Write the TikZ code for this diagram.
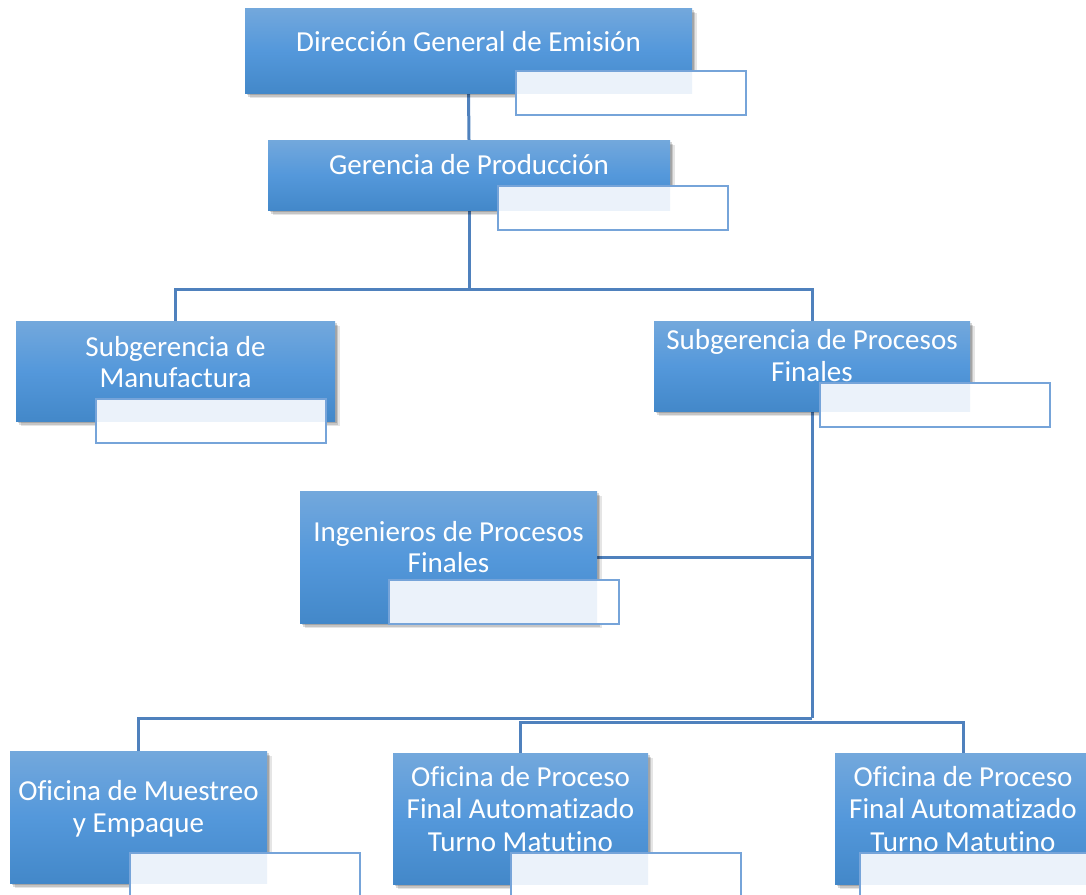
\documentclass[tikz,border=0pt]{standalone}
\usepackage{fontspec}
\setmainfont[Ligatures=NoCommon]{Carlito}
\usetikzlibrary{shadows}
\definecolor{linkblue}{RGB}{79,129,189}
\definecolor{boxtop}{RGB}{115,168,220}
\definecolor{boxmid}{RGB}{84,152,219}
\definecolor{boxbot}{RGB}{67,136,201}
\definecolor{notefill}{RGB}{235,242,250}
\definecolor{noteedge}{RGB}{118,164,217}
\pgfdeclarelayer{bg}
\pgfsetlayers{bg,main}
\tikzset{
  softshadow/.style={
    drop shadow={shadow xshift=1.5pt, shadow yshift=-2pt, opacity=0.16, fill=black},
    drop shadow={shadow xshift=3pt, shadow yshift=-3.5pt, opacity=0.14, fill=black},
    drop shadow={shadow xshift=4.5pt, shadow yshift=-5pt, opacity=0.10, fill=black}},
  unitbox/.style={rectangle, inner sep=0pt, outer sep=0pt, anchor=north west,
    top color=boxtop, bottom color=boxbot, middle color=boxmid, softshadow},
  notebox/.style={rectangle, inner sep=0pt, outer sep=0pt, anchor=north west, fill=white},
  noteline/.style={draw=noteedge, line width=1.3pt},
  lbl/.style={inner sep=0pt, anchor=base, text=white, font=\fontsize{29}{32}\selectfont},
  link/.style={draw=linkblue, line width=3pt},
}
% #1 name, #2 x, #3 y, #4 width, #5 height
\newcommand\orgunit[5]{\node[unitbox, minimum width=#4pt, minimum height=#5pt] (#1) at (#2,#3) {};}
% #1 note name, #2 unit name, #3 x, #4 y
\newcommand\orgnote[4]{%
  \node[notebox, minimum width=230pt, minimum height=44pt] (#1) at (#3,#4) {};
  \begin{scope}
    \clip (#2.north west) rectangle (#2.south east);
    \fill[notefill] (#1.north west) rectangle (#1.south east);
  \end{scope}
  \draw[noteline] (#1.north west) rectangle (#1.south east);}
\begin{document}
\begin{tikzpicture}[x=1pt, y=-1pt]
\useasboundingbox (0,0) rectangle (1086,894);

% units
\orgunit{b1}{245}{8}{447}{85}
\orgunit{b2}{268}{140}{402}{70}
\orgunit{b3}{16}{321}{319}{100}
\orgunit{b4}{654}{321}{316}{90}
\orgunit{b5}{300}{491}{297}{132}
\orgunit{b6}{10}{751}{257}{132}
\orgunit{b7}{393}{753}{255}{131}
\orgunit{b8}{835}{753}{256}{131}

% titles
\node[lbl] (t1) at (468.5,51) {Dirección General de Emisión};
\node[lbl] (t2) at (469,174) {Gerencia de Producción};
\node[lbl] (t3a) at (175.5,356) {Subgerencia de};
\node[lbl] (t3b) at (175.5,387) {Manufactura};
\node[lbl] (t4a) at (812,349) {Subgerencia de Procesos};
\node[lbl] (t4b) at (812,381) {Finales};
\node[lbl] (t5a) at (448.5,541) {Ingenieros de Procesos};
\node[lbl] (t5b) at (448.5,572) {Finales};
\node[lbl] (t6a) at (138.5,800) {Oficina de Muestreo};
\node[lbl] (t6b) at (138.5,832) {y Empaque};
\node[lbl] (t7a) at (520.5,786) {Oficina de Proceso};
\node[lbl] (t7b) at (520.5,818) {Final Automatizado};
\node[lbl] (t7c) at (520.5,851) {Turno Matutino};
\node[lbl] (t8a) at (963,786) {Oficina de Proceso};
\node[lbl] (t8b) at (963,818) {Final Automatizado};
\node[lbl] (t8c) at (963,851) {Turno Matutino};

% empty name tags
\orgnote{n1}{b1}{516}{71}
\orgnote{n2}{b2}{498}{186}
\orgnote{n3}{b3}{96}{399}
\orgnote{n4}{b4}{820}{383}
\orgnote{n5}{b5}{389}{580}
\orgnote{n6}{b6}{130}{853}
\orgnote{n7}{b7}{511}{853}
\orgnote{n8}{b8}{860}{853}

% connectors
\coordinate (hub) at (469,289);
\coordinate (bus) at (812,718);
\coordinate (bus2) at (963,722);
\begin{pgfonlayer}{bg}
  \draw[link] (b1.south) -- (b2.north);
  \draw[link] (b2.south) -- (hub);
  \draw[link] (b3.north) |- (hub) -| (b4.north);
  \draw[link] (b4.south) -- (bus);
  \draw[link] (b5.east) -- (b5.east -| bus);
  \draw[link] (bus) -| (b6.north);
  \draw[link] (b7.north) |- (bus2) -- (b8.north);
\end{pgfonlayer}
\end{tikzpicture}
\end{document}
